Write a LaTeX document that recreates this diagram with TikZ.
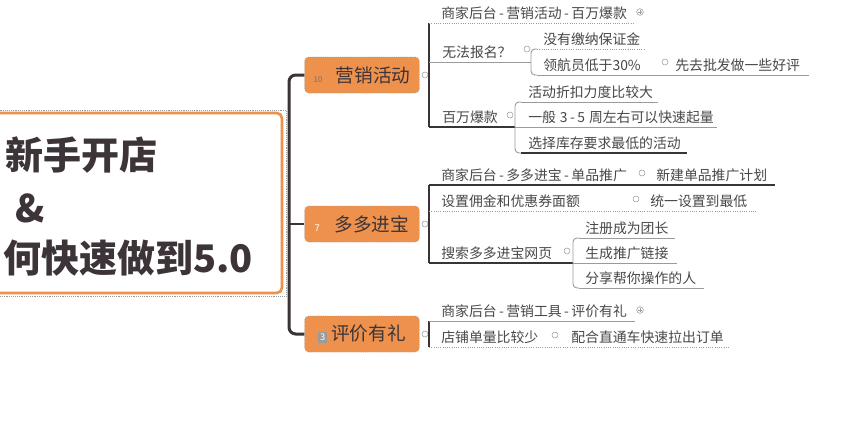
\documentclass[tikz,border=0pt]{standalone}
\usepackage{fontspec}
\setmainfont{Noto Sans CJK SC}
\usetikzlibrary{calc}
\definecolor{mmorange}{RGB}{238,145,77}
\definecolor{ink}{RGB}{60,52,56}
\definecolor{leafink}{RGB}{72,72,72}
\definecolor{dark}{RGB}{58,52,55}
\definecolor{grey}{RGB}{155,155,155}

\newcommand{\mkten}{{\fontsize{6}{6}\selectfont\color{ink!70}10}}
\newcommand{\mkseven}{{\fontsize{7}{7}\selectfont\color{white}7}}
\newcommand{\mkthree}{{\setlength\fboxsep{1.5pt}\colorbox{grey}{\fontsize{7}{7}\selectfont\color{white}3}}}
\newcommand{\hy}{\hspace{1.8pt}-\hspace{1.8pt}}

\tikzset{
  rootbox/.style={draw=mmorange, line width=2pt, rounded corners=4pt, fill=white,
    minimum width=219pt, minimum height=135pt},
  roottext/.style={anchor=west, inner sep=0pt, text=ink,
    font=\fontsize{28.5}{30}\selectfont\bfseries},
  topic/.style={fill=mmorange, draw=grey, densely dotted, rounded corners=3pt,
    minimum width=86pt, minimum height=27pt, inner sep=0pt, text=ink,
    font=\fontsize{14}{16}\selectfont},
  leaf/.style={anchor=south west, inner xsep=0pt, inner ysep=1.5pt,
    text height=9pt, text depth=2pt, text=leafink,
    font=\fontsize{10.4}{12}\selectfont},
  knob/.style={circle, draw=grey, fill=white, inner sep=0pt, minimum size=4.5pt,
    line width=0.4pt},
  plusmark/.style={knob, minimum size=5pt, path picture={
    \draw[grey, line width=0.35pt] ([xshift=-1.4pt]path picture bounding box.center) -- ([xshift=1.4pt]path picture bounding box.center)
      ([yshift=-1.4pt]path picture bounding box.center) -- ([yshift=1.4pt]path picture bounding box.center);}},
  trunk/.style={draw=dark, line width=2.25pt, rounded corners=5pt},
  mline/.style={draw=dark, line width=0.8pt},
  uline/.style={draw=grey, line width=0.7pt},
  dline/.style={draw=grey, line width=0.7pt, densely dotted},
}

\begin{document}
\begin{tikzpicture}[x=0.75pt,y=0.75pt,yscale=-1,xscale=1]
\useasboundingbox (0,0) rectangle (854,440);
\clip (0,0) rectangle (854,440);
\fill[white] (0,0) rectangle (854,440);

% central topic
\draw[grey, densely dotted] (-10,110) rectangle (286,296);
\node[rootbox] (root) at (136,203) {};
\node[roottext] (rootA) at (5,155) {新手开店};
\node[roottext] (rootB) at (15,208) {\&};
\node[roottext] (rootC) at (3,258) {何快速做到5.0};

% main topics
\node[topic] (yingxiao) at (362,75) {\mkten\hspace{10pt}营销活动};
\node[topic] (duoduo) at (362,224) {\mkseven\hspace{11pt}多多进宝};
\node[topic] (pingjia) at (362,334) {\mkthree\hspace{3pt}评价有礼};
\node[knob] (kYx) at (425,75) {};
\node[knob] (kDd) at (425,224) {};
\node[knob] (kPj) at (425,334) {};

\coordinate (hub) at (289,224);
\draw[trunk] (yingxiao.west) -| (hub) |- (pingjia.west);
\draw[mline] (hub) -- (duoduo.west);

%% branch: 营销活动
\coordinate (b1) at (429,75);
\node[leaf] (a1) at (441,23) {商家后台\hy{}营销活动\hy{}百万爆款};
\node[plusmark] (pA1) at (640,12) {};
\node[leaf] (a2) at (442,62) {无法报名？};
\node[knob] (kA2) at (527,49) {};
\coordinate (sb1) at (531,62);
\node[leaf] (a21) at (543,49) {没有缴纳保证金};
\node[leaf] (a22) at (543,75) {领航员低于30\%};
\node[knob] (kA22) at (665,62) {};
\node[leaf] (a23) at (675,75) {先去批发做一些好评};
\node[leaf] (a3) at (442,127) {百万爆款};
\node[knob] (kA3) at (510,115) {};
\coordinate (sb2) at (515,127);
\node[leaf] (a31) at (528,102) {活动折扣力度比较大};
\node[leaf] (a32) at (528,127) {一般\hspace{3pt}3\hy{}5\hspace{3pt}周左右可以快速起量};
\node[leaf] (a33) at (528,153) {选择库存要求最低的活动};

\draw[mline] (b1 |- a1.south) -- (b1 |- a3.south);
\draw[dline] (b1 |- a1.south) -- ($(a1.south east)+(7,0)$);
\draw[uline] (b1 |- a2.south) -- (sb1 |- a2.south);
\draw[mline] (b1 |- a3.south) -- (sb2 |- a3.south);
\draw[uline, rounded corners=3pt] ($(sb1 |- a21.south)+(6,0)$) -- (sb1 |- a21.south) -- (sb1 |- a22.south) -- ++(6,0);
\draw[dline] ($(sb1 |- a21.south)+(6,0)$) -- ($(a21.south east)+(4,0)$);
\draw[uline] ($(sb1 |- a22.south)+(6,0)$) -- ($(a23.south east)+(9,0)$);
\draw[uline, rounded corners=3pt] ($(sb2 |- a31.south)+(6,0)$) -- (sb2 |- a31.south) -- (sb2 |- a33.south) -- ++(6,0);
\draw[uline] ($(sb2 |- a31.south)+(6,0)$) -- ($(a31.south east)+(5,0)$);
\draw[uline] (sb2 |- a32.south) -- ($(a32.south east)+(3,0)$);
\draw[mline] ($(sb2 |- a33.south)+(6,0)$) -- ($(a33.south east)+(6,0)$);

%% branch: 多多进宝
\coordinate (b2) at (429,224);
\node[leaf] (c1) at (441,185) {商家后台\hy{}多多进宝\hy{}单品推广};
\node[knob] (kC1) at (642,173) {};
\node[leaf] (c12) at (656,185) {新建单品推广计划};
\node[leaf] (c2) at (441,211) {设置佣金和优惠券面额};
\node[knob] (kC2) at (636,199) {};
\node[leaf] (c22) at (650,211) {统一设置到最低};
\node[leaf] (c3) at (441,263) {搜索多多进宝网页};
\node[knob] (kC3) at (567,251) {};
\coordinate (sb3) at (573,263);
\node[leaf] (c31) at (585,238) {注册成为团长};
\node[leaf] (c32) at (585,263) {生成推广链接};
\node[leaf] (c33) at (585,288) {分享帮你操作的人};

\draw[mline] (b2 |- c1.south) -- (b2 |- c3.south);
\draw[mline] (b2 |- c1.south) -- ($(c12.south east)+(8,0)$);
\draw[dline] (b2 |- c2.south) -- ($(c22.south east)+(8,0)$);
\draw[mline] (b2 |- c3.south) -- (sb3 |- c3.south);
\draw[uline, rounded corners=3pt] ($(sb3 |- c31.south)+(6,0)$) -- (sb3 |- c31.south) -- (sb3 |- c33.south) -- ++(6,0);
\draw[uline] ($(sb3 |- c31.south)+(6,0)$) -- ($(c31.south east)+(6,0)$);
\draw[uline] (sb3 |- c32.south) -- ($(c32.south east)+(8,0)$);
\draw[uline] ($(sb3 |- c33.south)+(6,0)$) -- ($(c33.south east)+(8,0)$);

%% branch: 评价有礼
\coordinate (b3) at (429,334);
\node[leaf] (d1) at (441,321) {商家后台\hy{}营销工具\hy{}评价有礼};
\node[plusmark] (pD1) at (640,310) {};
\node[leaf] (d2) at (441,347) {店铺单量比较少};
\node[knob] (kD2) at (555,335) {};
\node[leaf] (d22) at (571,347) {配合直通车快速拉出订单};

\draw[mline] (b3 |- d1.south) -- (b3 |- d2.south);
\draw[uline] (b3 |- d1.south) -- ($(d1.south east)+(8,0)$);
\draw[dline] (b3 |- d2.south) -- ($(d22.south east)+(5,0)$);

\end{tikzpicture}
\end{document}
